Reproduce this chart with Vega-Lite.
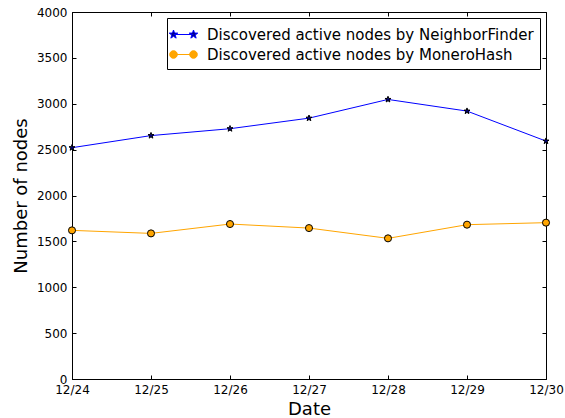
{
  "$schema": "https://vega.github.io/schema/vega-lite/v6.json",
  "width": 474,
  "height": 367,
  "autosize": {"type": "none"},
  "padding": {"left": 72, "top": 12, "right": 19, "bottom": 39},
  "background": "white",
  "config": {
    "font": "DejaVu Sans",
    "view": {"stroke": "black", "strokeWidth": 1},
    "axis": {
      "domainColor": "black",
      "tickColor": "black",
      "labelColor": "black",
      "labelFont": "DejaVu Sans",
      "labelFontSize": 12,
      "titleFont": "DejaVu Sans",
      "titleFontSize": 18,
      "titleFontWeight": "normal",
      "titleColor": "black",
      "grid": false,
      "tickSize": -4,
      "labelPadding": 9
    },
    "legend": {
      "orient": "top-right",
      "offset": 6,
      "strokeColor": "black",
      "fillColor": "white",
      "padding": 6,
      "labelFont": "DejaVu Sans",
      "labelFontSize": 15,
      "labelColor": "black",
      "symbolSize": 400,
      "symbolStrokeWidth": 1,
      "labelOffset": 13,
      "rowPadding": 1,
      "cornerRadius": 0,
      "labelLimit": 400
    }
  },
  "data": {
    "values": [
      {"Date": "12/24", "series": "Discovered active nodes by NeighborFinder", "Nodes": 2521},
      {"Date": "12/25", "series": "Discovered active nodes by NeighborFinder", "Nodes": 2653},
      {"Date": "12/26", "series": "Discovered active nodes by NeighborFinder", "Nodes": 2728},
      {"Date": "12/27", "series": "Discovered active nodes by NeighborFinder", "Nodes": 2843},
      {"Date": "12/28", "series": "Discovered active nodes by NeighborFinder", "Nodes": 3047},
      {"Date": "12/29", "series": "Discovered active nodes by NeighborFinder", "Nodes": 2920},
      {"Date": "12/30", "series": "Discovered active nodes by NeighborFinder", "Nodes": 2593},
      {"Date": "12/24", "series": "Discovered active nodes by MoneroHash", "Nodes": 1620},
      {"Date": "12/25", "series": "Discovered active nodes by MoneroHash", "Nodes": 1587},
      {"Date": "12/26", "series": "Discovered active nodes by MoneroHash", "Nodes": 1689},
      {"Date": "12/27", "series": "Discovered active nodes by MoneroHash", "Nodes": 1645},
      {"Date": "12/28", "series": "Discovered active nodes by MoneroHash", "Nodes": 1533},
      {"Date": "12/29", "series": "Discovered active nodes by MoneroHash", "Nodes": 1682},
      {"Date": "12/30", "series": "Discovered active nodes by MoneroHash", "Nodes": 1704}
    ]
  },
  "layer": [
    {
      "mark": {"type": "line", "strokeWidth": 1},
      "encoding": {
        "x": {"field": "Date", "type": "ordinal", "scale": {"type": "point", "padding": 0},
              "axis": {"orient": "bottom", "title": "Date", "labelAngle": 0, "titlePadding": 5}},
        "y": {"field": "Nodes", "type": "quantitative", "scale": {"domain": [0, 4000], "nice": false},
              "axis": {"orient": "left", "title": "Number of nodes", "format": "d", "values": [0,500,1000,1500,2000,2500,3000,3500,4000], "titlePadding": 6}},
        "stroke": {"field": "series", "type": "nominal",
                  "scale": {"domain": ["Discovered active nodes by NeighborFinder", "Discovered active nodes by MoneroHash"], "range": ["#0000ff", "#ffa500"]},
                  "legend": {"title": null}}
      }
    },
    {
      "transform": [{"filter": "datum.series === 'Discovered active nodes by NeighborFinder'"}],
      "mark": {"type": "point", "filled": true, "shape": "M0,-1L0.235,-0.324L0.951,-0.309L0.38,0.124L0.588,0.809L0,0.4L-0.588,0.809L-0.38,0.124L-0.951,-0.309L-0.235,-0.324Z", "fill": "#000080", "stroke": "black", "strokeWidth": 1, "opacity": 1, "size": 40},
      "encoding": {
        "x": {"field": "Date", "type": "ordinal", "axis": null},
        "y": {"field": "Nodes", "type": "quantitative", "axis": null}
      }
    },
    {
      "transform": [{"filter": "datum.series === 'Discovered active nodes by MoneroHash'"}],
      "mark": {"type": "point", "filled": true, "shape": "circle", "fill": "#ffa500", "stroke": "black", "strokeWidth": 1, "opacity": 1, "size": 50},
      "encoding": {
        "x": {"field": "Date", "type": "ordinal", "axis": null},
        "y": {"field": "Nodes", "type": "quantitative", "axis": null}
      }
    },
    {
      "mark": {"type": "point", "filled": true, "opacity": 0},
      "encoding": {
        "x": {"field": "Date", "type": "ordinal", "axis": null},
        "y": {"field": "Nodes", "type": "quantitative", "axis": null},
        "shape": {"field": "series", "type": "nominal",
                  "scale": {"domain": ["Discovered active nodes by NeighborFinder", "Discovered active nodes by MoneroHash"],
                            "range": ["M-1,0L1,0M1,-0.45L1.106,-0.146L1.428,-0.139L1.171,0.056L1.265,0.364L1,0.18L0.735,0.364L0.829,0.056L0.572,-0.139L0.894,-0.146ZM-1,-0.45L-0.894,-0.146L-0.572,-0.139L-0.829,0.056L-0.735,0.364L-1,0.18L-1.265,0.364L-1.171,0.056L-1.428,-0.139L-1.106,-0.146Z",
                                      "M-1,0L1,0M1.38,0A0.38,0.38 0 1,1 0.62,0A0.38,0.38 0 1,1 1.38,0ZM-0.62,0A0.38,0.38 0 1,1 -1.38,0A0.38,0.38 0 1,1 -0.62,0Z"]},
                  "legend": null},
        "fill": {"field": "series", "type": "nominal",
                 "scale": {"domain": ["Discovered active nodes by NeighborFinder", "Discovered active nodes by MoneroHash"], "range": ["#000080", "#ffa500"]},
                 "legend": {"title": null}}
      }
    },
    {
      "mark": {"type": "point", "opacity": 0},
      "encoding": {
        "x": {"field": "Date", "type": "ordinal", "axis": {"orient": "top", "labels": false, "title": null, "domain": false}},
        "y": {"field": "Nodes", "type": "quantitative", "axis": {"orient": "right", "labels": false, "title": null, "domain": false, "values": [0,500,1000,1500,2000,2500,3000,3500,4000]}}
      }
    }
  ],
  "resolve": {"axis": {"x": "independent", "y": "independent"}}
}
